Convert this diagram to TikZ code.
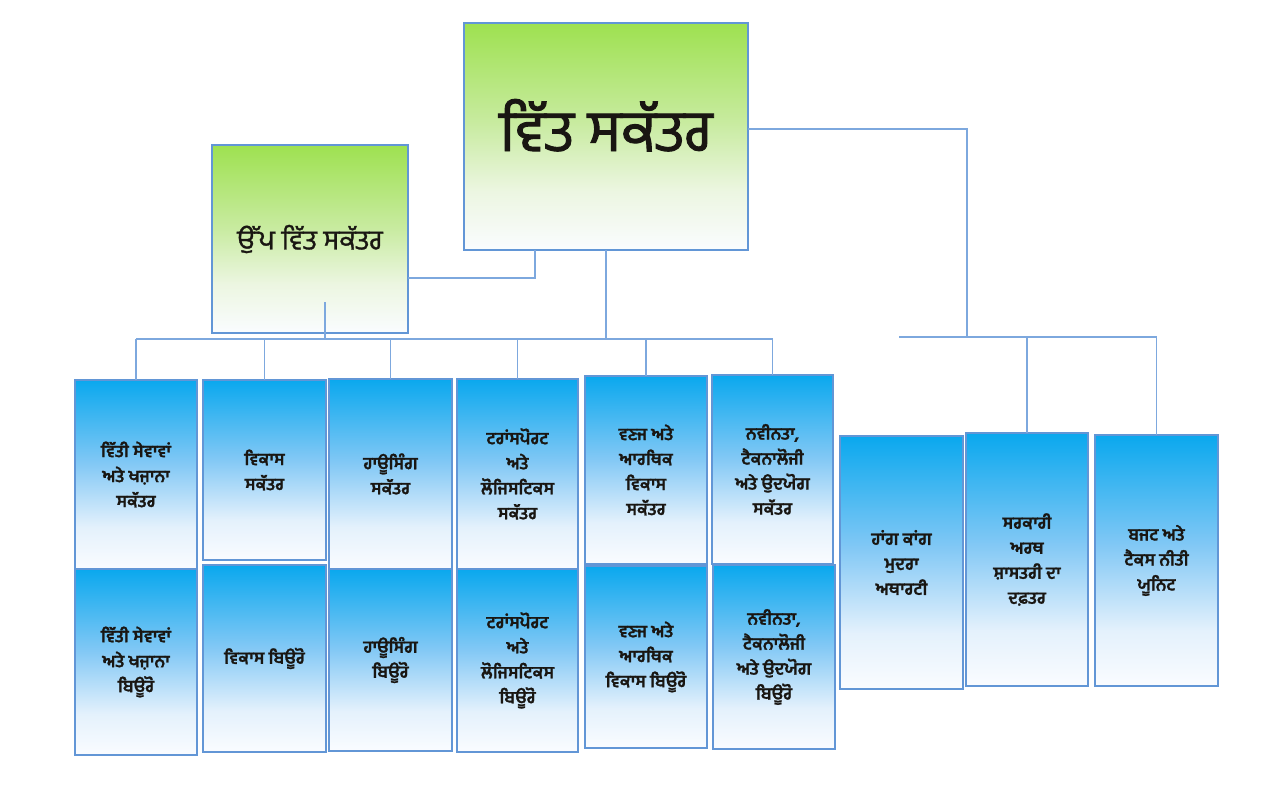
\documentclass[tikz,border=0pt]{standalone}
\usepackage{fontspec}
\newfontfamily\gur[Script=Gurmukhi,BoldFeatures={FakeBold=1.3}]{Hind Jalandhar}
\newfontfamily\gurt[Script=Gurmukhi,FakeBold=1.6]{Hind Jalandhar}
\newfontfamily\gurd[Script=Gurmukhi,FakeBold=1.1]{Hind Jalandhar}
\definecolor{bdr}{RGB}{98,150,214}
\definecolor{ln}{RGB}{125,168,222}
\definecolor{btop}{RGB}{10,168,238}
\definecolor{bmid}{RGB}{130,200,245}
\definecolor{blow}{RGB}{228,241,252}
\definecolor{bbot}{RGB}{250,252,255}
\definecolor{gtop}{RGB}{158,225,80}
\definecolor{gmid}{RGB}{200,235,160}
\definecolor{glow}{RGB}{236,246,225}
\definecolor{txt}{RGB}{25,22,18}
\pgfdeclareverticalshading{bshade}{100bp}{color(0bp)=(bbot); color(25bp)=(bbot); color(36bp)=(blow); color(53bp)=(bmid); color(75bp)=(btop); color(100bp)=(btop)}
\pgfdeclareverticalshading{gshade}{100bp}{color(0bp)=(bbot); color(25bp)=(bbot); color(38bp)=(glow); color(53bp)=(gmid); color(75bp)=(gtop); color(100bp)=(gtop)}
\tikzset{
  box/.style={draw=bdr, line width=2.3pt, inner sep=0pt, outer sep=0pt, align=center, text=txt},
  bluebox/.style={box, shade, shading=bshade, font=\gur\bfseries\fontsize{17}{25}\selectfont},
  greenbox/.style={box, shade, shading=gshade},
  conn/.style={draw=ln, line width=1.6pt}
}
\begin{document}
\begin{tikzpicture}[x=1pt,y=-1pt]
\useasboundingbox (0,0) rectangle (1280,800);
% top level
\node[greenbox, minimum width=284pt, minimum height=227pt, text height=50pt, text depth=21pt, font=\gurt\fontsize{58}{62}\selectfont] (main) at (606,136.5) {ਵਿੱਤ ਸਕੱਤਰ};
\node[greenbox, minimum width=196pt, minimum height=188pt, font=\gurd\fontsize{27.5}{32}\selectfont] (dep) at (310,239) {ਉੱਪ ਵਿੱਤ ਸਕੱਤਰ};
% columns
\node[bluebox, minimum width=122pt, minimum height=189pt] (c1t) at (136,474.5) {ਵਿੱਤੀ ਸੇਵਾਵਾਂ\\ਅਤੇ ਖਜ਼ਾਨਾ\\ਸਕੱਤਰ};
\node[bluebox, minimum width=122pt, minimum height=186pt] (c1b) at (136,662) {ਵਿੱਤੀ ਸੇਵਾਵਾਂ\\ਅਤੇ ਖਜ਼ਾਨਾ\\ਬਿਊਰੋ};
\node[bluebox, minimum width=123pt, minimum height=180pt] (c2t) at (264.5,470) {ਵਿਕਾਸ\\ਸਕੱਤਰ};
\node[bluebox, minimum width=123pt, minimum height=187pt] (c2b) at (264.5,658.5) {ਵਿਕਾਸ ਬਿਊਰੋ};
\node[bluebox, minimum width=123pt, minimum height=190pt] (c3t) at (390.5,474) {ਹਾਊਸਿੰਗ\\ਸਕੱਤਰ};
\node[bluebox, minimum width=123pt, minimum height=182pt] (c3b) at (390.5,660) {ਹਾਊਸਿੰਗ\\ਬਿਊਰੋ};
\node[bluebox, minimum width=121pt, minimum height=190pt] (c4t) at (517.5,474) {ਟਰਾਂਸਪੋਰਟ\\ਅਤੇ\\ਲੋਜਿਸਟਿਕਸ\\ਸਕੱਤਰ};
\node[bluebox, minimum width=121pt, minimum height=183pt] (c4b) at (517.5,660.5) {ਟਰਾਂਸਪੋਰਟ\\ਅਤੇ\\ਲੋਜਿਸਟਿਕਸ\\ਬਿਊਰੋ};
\node[bluebox, minimum width=122pt, minimum height=188pt] (c5t) at (646,470) {ਵਣਜ ਅਤੇ\\ਆਰਥਿਕ\\ਵਿਕਾਸ\\ਸਕੱਤਰ};
\node[bluebox, minimum width=122pt, minimum height=182pt] (c5b) at (646,657) {ਵਣਜ ਅਤੇ\\ਆਰਥਿਕ\\ਵਿਕਾਸ ਬਿਊਰੋ};
\node[bluebox, minimum width=121pt, minimum height=189pt] (c6t) at (772.5,469.5) {ਨਵੀਨਤਾ,\\ਟੈਕਨਾਲੋਜੀ\\ਅਤੇ ਉਦਯੋਗ\\ਸਕੱਤਰ};
\node[bluebox, minimum width=122pt, minimum height=184pt] (c6b) at (774,657) {ਨਵੀਨਤਾ,\\ਟੈਕਨਾਲੋਜੀ\\ਅਤੇ ਉਦਯੋਗ\\ਬਿਊਰੋ};
% right group
\node[bluebox, minimum width=123pt, minimum height=253pt] (hk) at (901.5,562.5) {ਹਾਂਗ ਕਾਂਗ\\ਮੁਦਰਾ\\ਅਥਾਰਟੀ};
\node[bluebox, minimum width=122pt, minimum height=253pt] (gov) at (1027,559.5) {ਸਰਕਾਰੀ\\ਅਰਥ\\ਸ਼ਾਸਤਰੀ ਦਾ\\ਦਫ਼ਤਰ};
\node[bluebox, minimum width=123pt, minimum height=251pt] (bud) at (1156.5,560.5) {ਬਜਟ ਅਤੇ\\ਟੈਕਸ ਨੀਤੀ\\ਯੂਨਿਟ};
% connector points
\coordinate (j1) at (535,278);
\coordinate (bus) at (0,339);
\coordinate (dv) at (325,302);
\coordinate (r1) at (967,129);
\coordinate (rbus) at (0,337);
\coordinate (rL) at (899,337);
% connectors
\draw[conn] (dep.east |- j1) -- (j1) -- (j1 |- main.south);
\draw[conn] (main.south) -- (main.south |- bus);
\draw[conn] (dv) -- (dv |- bus);
\draw[conn] (c1t.north |- bus) -- (c6t.north |- bus);
\foreach \n in {c1t,c2t,c3t,c4t,c5t,c6t}{\draw[conn] (\n.north |- bus) -- (\n.north);}
\draw[conn] (main.east |- r1) -- (r1) -- (r1 |- rbus);
\draw[conn] (rL) -- (bud.north |- rbus);
\draw[conn] (gov.north |- rbus) -- (gov.north);
\draw[conn] (bud.north |- rbus) -- (bud.north);
\end{tikzpicture}
\end{document}
